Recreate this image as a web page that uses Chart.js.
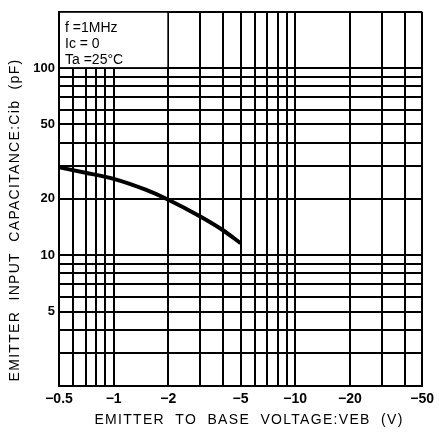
<!DOCTYPE html>
<html>
<head>
<meta charset="utf-8">
<script src="https://cdn.jsdelivr.net/npm/chart.js@4.4.0/dist/chart.umd.min.js"></script>
<style>
  body { margin: 0; background: #fff; }
  #wrap { width: 439px; height: 433px; }
</style>
</head>
<body>
<div id="wrap"><canvas id="cib_graph" width="439" height="433"></canvas></div>
<script>
// emitter to base voltage magnitude (V) and input capacitance (pF)
let veb = [0.5, 0.7, 1, 1.5, 2, 3, 4, 5]
let cib = [29.5, 27.6, 25.6, 22.4, 19.8, 16.1, 13.6, 11.6]

// grid lines and tick labels
let xGrid = [0.5, 0.6, 0.7, 0.8, 0.9, 1, 2, 3, 4, 5, 6, 7, 8, 9, 10, 20, 30, 40, 50]
let xLabels = [0.5, 1, 2, 5, 10, 20, 50]
let yGrid = [2, 3, 4, 5, 6, 7, 8, 9, 10, 20, 30, 40, 50, 60, 70, 80, 90, 100, 200]
let yLabels = [5, 10, 20, 50, 100]

let conditions = ["f =1MHz", "Ic = 0", "Ta =25°C"]

let points = veb.map((v, i) => ({ x: v, y: cib[i] }))
let fontFam = '"Liberation Sans", Arial, sans-serif'

//noteBox + axis titles
let sheetPlugin = {
    id: 'sheet',
    beforeDatasetsDraw(chart) {
        let ctx = chart.ctx
        let x = chart.scales.x
        let y = chart.scales.y
        let left = x.getPixelForValue(0.5) + 1
        let right = x.getPixelForValue(2) - 1
        let top = y.getPixelForValue(200) + 1
        let bottom = y.getPixelForValue(100) - 1
        ctx.save()
        ctx.fillStyle = '#fff'
        ctx.fillRect(left, top, right - left, bottom - top)
        ctx.fillStyle = '#000'
        ctx.font = '14px ' + fontFam
        ctx.textBaseline = 'middle'
        conditions.forEach((t, i) => {
            ctx.fillText(t, left + 5, top + 15 + i * 16)
        })
        ctx.restore()
    },
    afterDraw(chart) {
        let ctx = chart.ctx
        ctx.save()
        ctx.fillStyle = '#000'
        ctx.textAlign = 'center'
        ctx.textBaseline = 'middle'
        ctx.font = '14px ' + fontFam
        ctx.letterSpacing = '1.3px'
        ctx.fillText('EMITTER  TO  BASE  VOLTAGE:VEB  (V)', 249, 420)
        ctx.translate(15, 220)
        ctx.rotate(-Math.PI / 2)
        ctx.fillText('EMITTER  INPUT  CAPACITANCE:Cib  (pF)', 0, 0)
        ctx.restore()
    }
}

new Chart("cib_graph", {
    type: 'line',
    data: {
        datasets: [{
            data: points,
            borderColor: '#000',
            borderWidth: 4,
            pointRadius: 0,
            cubicInterpolationMode: 'monotone',
            fill: false
        }]
    },
    options: {
        responsive: false,
        animation: false,
        layout: { padding: { top: 10, right: 16, left: 0, bottom: 0 } },
        plugins: {
            legend: { display: false },
            tooltip: { enabled: false }
        },
        scales: {
            x: {
                type: 'logarithmic',
                min: 0.5,
                max: 50,
                afterBuildTicks: scale => {
                    scale.ticks = xGrid.map(v => ({ value: v }))
                },
                afterFit: scale => { scale.height = 47 },
                grid: { color: '#000', lineWidth: 2, drawTicks: false },
                border: { color: '#000', width: 2 },
                ticks: {
                    autoSkip: false,
                    maxRotation: 0,
                    padding: 5,
                    color: '#000',
                    font: { family: fontFam, size: 14, weight: 'bold' },
                    callback: v => xLabels.includes(v) ? '\u2212' + v : ''
                }
            },
            y: {
                type: 'logarithmic',
                min: 2,
                max: 200,
                afterBuildTicks: scale => {
                    scale.ticks = yGrid.map(v => ({ value: v }))
                },
                afterFit: scale => { scale.width = 59 },
                grid: { color: '#000', lineWidth: 2, drawTicks: false },
                border: { color: '#000', width: 2 },
                ticks: {
                    autoSkip: false,
                    padding: 4,
                    color: '#000',
                    font: { family: fontFam, size: 13, weight: 'bold' },
                    callback: v => yLabels.includes(v) ? String(v) : ''
                }
            }
        }
    },
    plugins: [sheetPlugin]
})
</script>
</body>
</html>
